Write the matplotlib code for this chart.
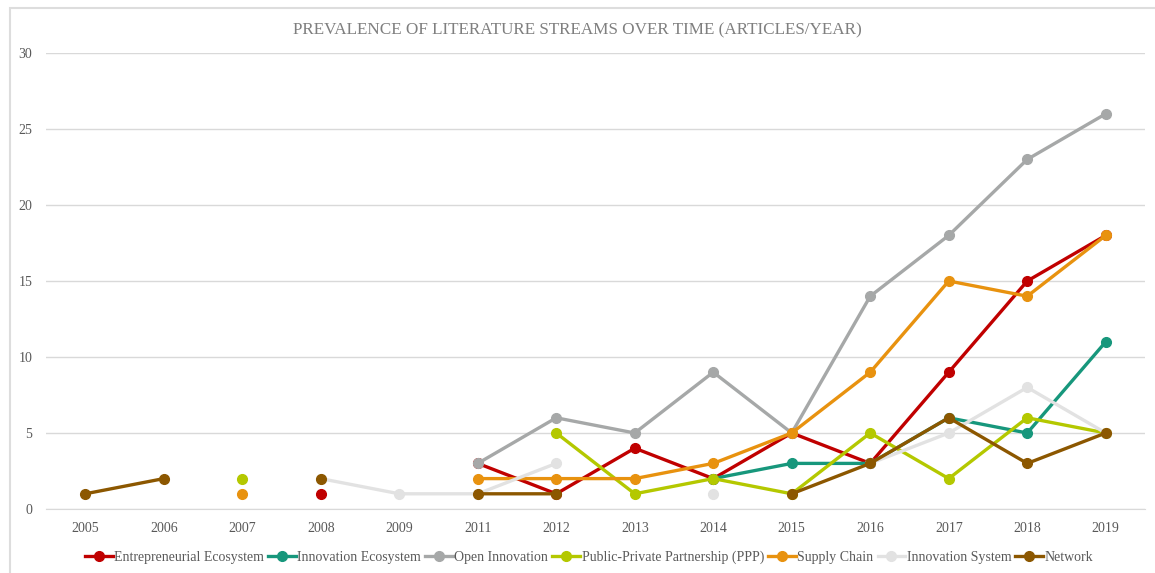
import numpy as np
import matplotlib.pyplot as plt
from matplotlib.patches import Rectangle

nan = np.nan
years = ["2005", "2006", "2007", "2008", "2009", "2011", "2012",
         "2013", "2014", "2015", "2016", "2017", "2018", "2019"]

entrepreneurial = [nan, nan, nan, 1, nan, 3, 1, 4, 2, 5, 3, 9, 15, 18]
innovation_eco = [nan, nan, nan, nan, nan, nan, nan, nan, 2, 3, 3, 6, 5, 11]
open_innovation = [nan, nan, nan, nan, nan, 3, 6, 5, 9, 5, 14, 18, 23, 26]
ppp = [nan, nan, 2, nan, nan, nan, 5, 1, 2, 1, 5, 2, 6, 5]
supply_chain = [nan, nan, 1, nan, nan, 2, 2, 2, 3, 5, 9, 15, 14, 18]
innovation_sys = [nan, nan, nan, 2, 1, 1, 3, nan, 1, nan, 3, 5, 8, 5]
network = [1, 2, nan, 2, nan, 1, 1, nan, nan, 1, 3, 6, 3, 5]

series = [
    ("Entrepreneurial Ecosystem", entrepreneurial, "#C00000"),
    ("Innovation Ecosystem", innovation_eco, "#17977C"),
    ("Open Innovation", open_innovation, "#A6A8A8"),
    ("Public-Private Partnership (PPP)", ppp, "#B4C800"),
    ("Supply Chain", supply_chain, "#E8920F"),
    ("Innovation System", innovation_sys, "#E2E2E2"),
    ("Network", network, "#8C5700"),
]

plt.rcParams["font.family"] = ["Liberation Serif", "DejaVu Serif"]

fig = plt.figure(figsize=(11.55, 5.73), dpi=100)
# light outer frame of the chart area (only left/top edges visible)
fig.patches.append(Rectangle((10 / 1155, -0.05), 1.1, 1.05 - 8 / 573,
                             transform=fig.transFigure, fill=False,
                             edgecolor="#DDDDDD", linewidth=1.5, zorder=0))
ax = fig.add_axes([46 / 1155, 64 / 573, 1099 / 1155, 456 / 573])

x = np.arange(len(years))
for name, vals, color in series:
    ax.plot(x, vals, color=color, linewidth=2.4, marker="o",
            markersize=7, label=name)

ax.set_xlim(-0.5, len(years) - 0.5)
ax.set_ylim(0, 30)
ax.set_yticks(range(0, 31, 5))
ax.set_xticks(x)
ax.set_xticklabels(years)
ax.yaxis.grid(True, color="#D9D9D9", linewidth=1)
ax.set_axisbelow(True)
for s in ["top", "right", "left"]:
    ax.spines[s].set_visible(False)
ax.spines["bottom"].set_color("#D9D9D9")
ax.tick_params(length=0, colors="#595959", labelsize=10)
ax.tick_params(axis="x", pad=9)
ax.tick_params(axis="y", pad=10)

fig.text(0.5, 1 - 30 / 573, "PREVALENCE OF LITERATURE STREAMS OVER TIME (ARTICLES/YEAR)",
         ha="center", va="center", fontsize=12.3, color="#7F7F7F")

fig.legend(loc="center", bbox_to_anchor=(0.51, 1 - 557 / 573), ncol=7,
           frameon=False, fontsize=10, handlelength=2.0, handletextpad=0.1,
           columnspacing=0.3, labelcolor="#595959")

fig.savefig("out.png", dpi=100)
